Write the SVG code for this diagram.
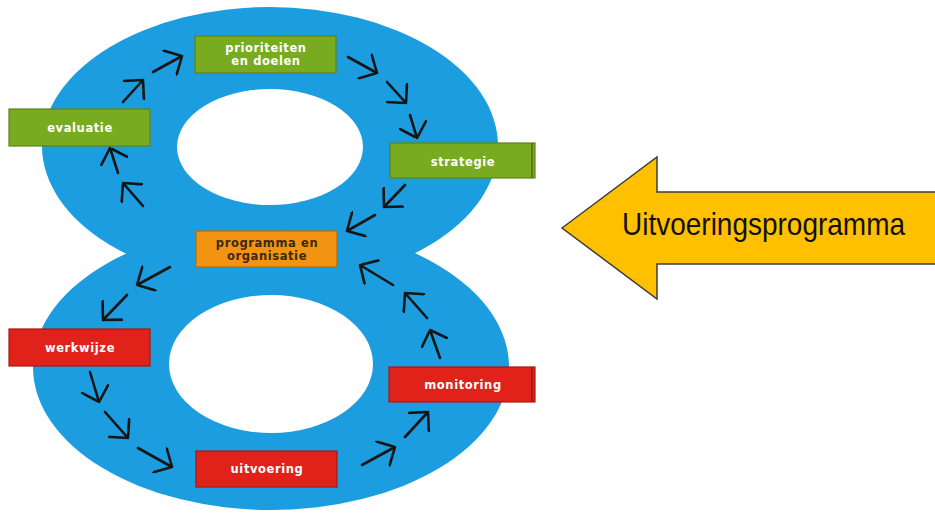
<svg xmlns="http://www.w3.org/2000/svg" width="935" height="513" viewBox="0 0 935 513">
<defs>
<style>
.box{stroke-width:1.2}
.green{fill:#78AB1F;stroke:#5E8418}
.red{fill:#E1221B;stroke:#A81812}
.orange{fill:#F29411;stroke:#B36C0C}
.lbl{font-family:"DejaVu Sans",Verdana,sans-serif;font-weight:bold;font-size:11.5px;letter-spacing:0.6px;fill:#ffffff;text-anchor:middle}
.dark{fill:#3A2A14}
.conn line{stroke:#151515;stroke-width:2.6;stroke-linecap:round;marker-end:url(#chev)}
</style>
<marker id="chev" viewBox="0 0 10 20" refX="10" refY="10" markerWidth="14.5" markerHeight="29" orient="auto" markerUnits="userSpaceOnUse">
<path d="M0,0 L10,10 L0,20" fill="none" stroke="#151515" stroke-width="1.8" stroke-linecap="round" stroke-linejoin="round"/>
</marker>
</defs>
<rect width="935" height="513" fill="#ffffff"/>
<g id="eight">
<ellipse cx="270" cy="146" rx="228" ry="139" fill="#1C9DDF"/>
<ellipse cx="271" cy="367" rx="238" ry="143" fill="#1C9DDF"/>
<ellipse cx="270" cy="147" rx="93" ry="58" fill="#ffffff"/>
<ellipse cx="271" cy="364" rx="102" ry="69" fill="#ffffff"/>
</g>
<g class="conn" id="connectors">
<line x1="153" y1="72" x2="182" y2="56"/>
<line x1="123" y1="102" x2="143" y2="80"/>
<line x1="118" y1="173" x2="110" y2="148"/>
<line x1="143" y1="206" x2="123" y2="183"/>
<line x1="348" y1="57" x2="377" y2="73"/>
<line x1="387" y1="82" x2="406" y2="103"/>
<line x1="410" y1="115" x2="417" y2="138"/>
<line x1="405" y1="185" x2="384" y2="207"/>
<line x1="375" y1="215" x2="347" y2="231"/>
<line x1="170" y1="267" x2="137" y2="285"/>
<line x1="127" y1="295" x2="103" y2="320"/>
<line x1="90" y1="372" x2="99" y2="402"/>
<line x1="105" y1="412" x2="128" y2="438"/>
<line x1="138" y1="448" x2="172" y2="467"/>
<line x1="362" y1="465" x2="395" y2="447"/>
<line x1="405" y1="437" x2="428" y2="412"/>
<line x1="440" y1="358" x2="430" y2="330"/>
<line x1="427" y1="318" x2="405" y2="293"/>
<line x1="393" y1="285" x2="360" y2="265"/>
</g>
<g id="prioriteiten">
<rect class="box green" x="195" y="36" width="141" height="37"/>
<text class="lbl" x="266" y="52">prioriteiten</text>
<text class="lbl" x="266" y="65">en doelen</text>
</g>
<g id="evaluatie">
<rect class="box green" x="9" y="109" width="141" height="37"/>
<text class="lbl" x="80" y="132">evaluatie</text>
</g>
<g id="strategie">
<rect class="box green" x="390" y="143" width="145" height="35"/>
<line x1="532" y1="143" x2="532" y2="178" stroke="#4E6E14" stroke-width="1.5"/>
<text class="lbl" x="463" y="166">strategie</text>
</g>
<g id="programma">
<rect class="box orange" x="196" y="231" width="141" height="36"/>
<text class="lbl dark" x="267" y="247">programma en</text>
<text class="lbl dark" x="267" y="260">organisatie</text>
</g>
<g id="werkwijze">
<rect class="box red" x="9" y="329" width="141" height="37"/>
<text class="lbl" x="80" y="352">werkwijze</text>
</g>
<g id="monitoring">
<rect class="box red" x="389" y="367" width="146" height="35"/>
<line x1="532" y1="367" x2="532" y2="402" stroke="#A01510" stroke-width="1.5"/>
<text class="lbl" x="463" y="389">monitoring</text>
</g>
<g id="uitvoering">
<rect class="box red" x="196" y="451" width="141" height="36"/>
<text class="lbl" x="267" y="473">uitvoering</text>
</g>
<g id="uitvoeringsprogramma">
<polygon points="562,228 657,157 657,192 936,192 936,264 657,264 657,299" fill="#FFC000" stroke="#3C3C3C" stroke-width="1.5" stroke-linejoin="miter"/>
<text transform="translate(622,235) scale(1,1.15)" x="0" y="0" font-family="Liberation Sans, Arial, sans-serif" font-size="28" fill="#111111">Uitvoeringsprogramma</text>
</g>
</svg>
